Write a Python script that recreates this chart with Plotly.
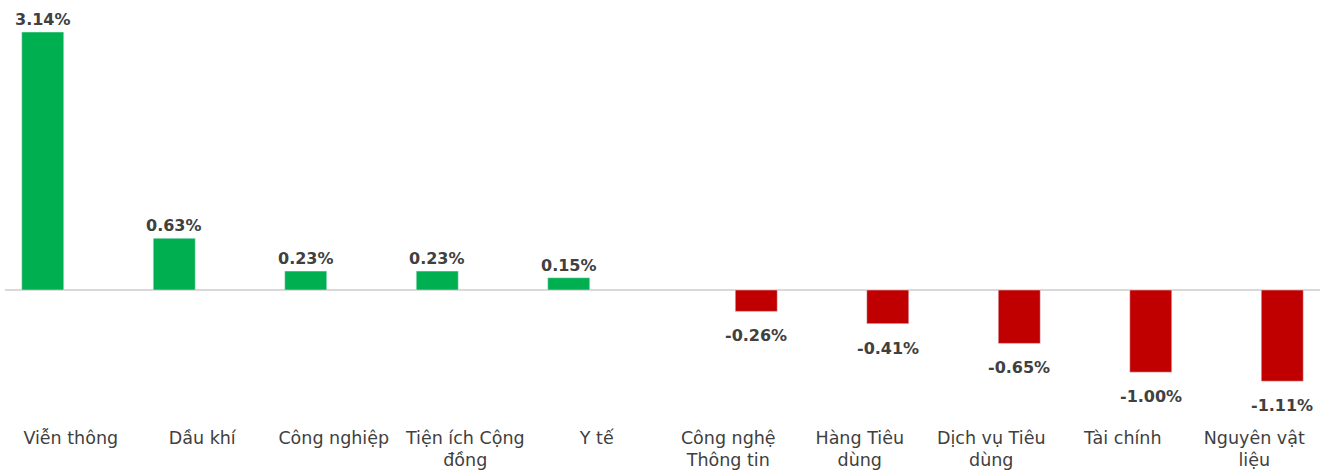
import plotly.graph_objects as go

categories = ["Viễn thông", "Dầu khí", "Công nghiệp", "Tiện ích Cộng<br>đồng", "Y tế",
              "Công nghệ<br>Thông tin", "Hàng Tiêu<br>dùng", "Dịch vụ Tiêu<br>dùng",
              "Tài chính", "Nguyên vật<br>liệu"]
gains = [3.14, 0.63, 0.23, 0.23, 0.15, None, None, None, None, None]
losses = [None, None, None, None, None, -0.26, -0.41, -0.65, -1.00, -1.11]

GREEN = "#00B050"
RED = "#C00000"
TXT = "#404040"
FONT = "DejaVu Sans"

W, H = 1322, 472
ML, MR, MT, MB = 5, 2, 10, 52
BARGAP = 0.148
plot_w = W - ML - MR
slot_px = plot_w / len(categories) * (1 - BARGAP) / 2

fig = go.Figure()
fig.add_bar(x=categories, y=gains, marker_color=GREEN, name="Tăng")
fig.add_bar(x=categories, y=losses, marker_color=RED, name="Giảm")

for c, v in zip(categories, gains):
    if v is not None:
        fig.add_annotation(x=c, y=v, text=f"<b>{v:.2f}%</b>", showarrow=False,
                           yanchor="bottom", xshift=-slot_px / 2, yshift=1,
                           font=dict(family=FONT, size=16, color=TXT))
for c, v in zip(categories, losses):
    if v is not None:
        fig.add_annotation(x=c, y=v, text=f"<b>{v:.2f}%</b>", showarrow=False,
                           yanchor="top", xshift=slot_px / 2, yshift=-13,
                           font=dict(family=FONT, size=16, color=TXT))

fig.update_layout(
    width=W, height=H,
    margin=dict(l=ML, r=MR, t=MT, b=MB),
    barmode="group", bargap=BARGAP, bargroupgap=0.25,
    plot_bgcolor="white", paper_bgcolor="white",
    showlegend=False,
    font=dict(family=FONT, size=16, color=TXT),
    xaxis=dict(showgrid=False, showline=False, ticks="", tickangle=0,
               ticklabelstandoff=5, automargin=False,
               tickfont=dict(family=FONT, size=17.5, color=TXT)),
    yaxis=dict(range=[-1.582, 3.408], showgrid=False, showticklabels=False,
               zeroline=True, zerolinecolor="#D9D9D9", zerolinewidth=2),
)

fig.write_html("out.html", config={"displayModeBar": False},
               post_script="document.body.style.margin='0';document.body.style.overflow='hidden';")
